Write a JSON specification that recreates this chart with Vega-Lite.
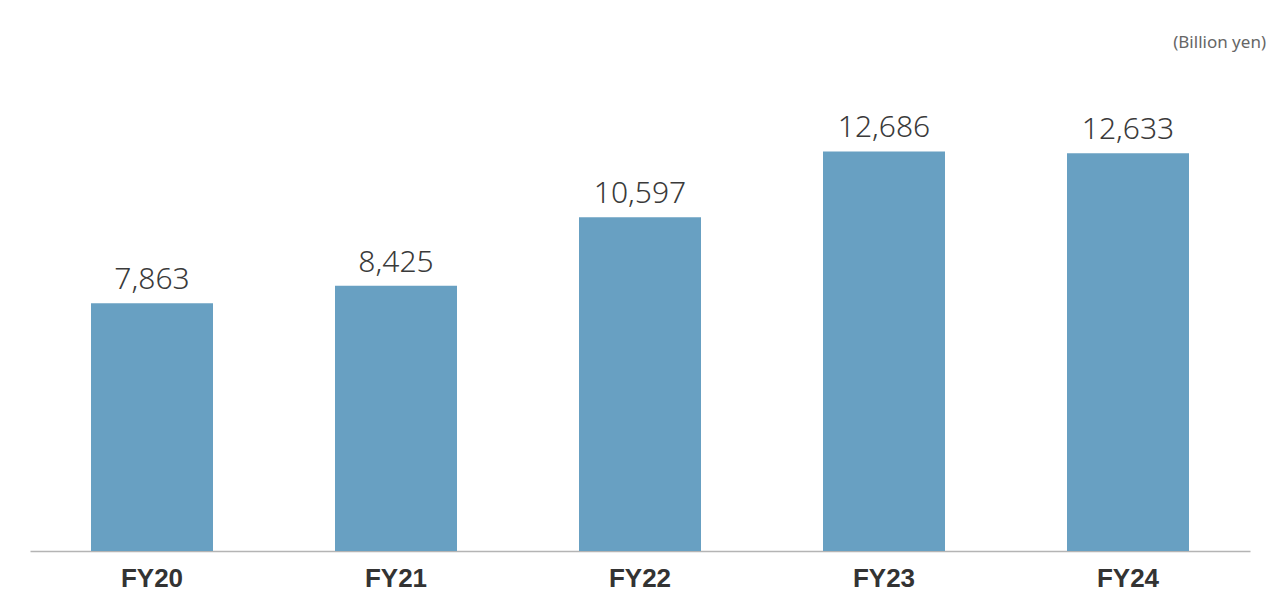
{
  "$schema": "https://vega.github.io/schema/vega-lite/v6.json",
  "autosize": {"type": "none"},
  "width": 1220,
  "height": 491,
  "padding": {"left": 30, "right": 30, "top": 60, "bottom": 54},
  "background": "white",
  "title": {
    "text": "(Billion yen)",
    "anchor": "end",
    "orient": "top",
    "fontSize": 17,
    "fontWeight": "normal",
    "font": "Noto Sans",
    "color": "#666666",
    "dx": 16,
    "offset": 8
  },
  "data": {
    "values": [
      {"year": "FY20", "value": 7863},
      {"year": "FY21", "value": 8425},
      {"year": "FY22", "value": 10597},
      {"year": "FY23", "value": 12686},
      {"year": "FY24", "value": 12633}
    ]
  },
  "config": {"view": {"stroke": null}},
  "encoding": {
    "x": {
      "field": "year",
      "type": "nominal",
      "sort": null,
      "scale": {"paddingInner": 0.5, "paddingOuter": 0.25},
      "axis": {
        "title": null,
        "labelAngle": 0,
        "ticks": false,
        "domainColor": "#b4b4b4",
        "domainWidth": 1.5,
        "labelFont": "Liberation Sans",
        "labelFontSize": 26,
        "labelFontWeight": "bold",
        "labelColor": "#333333",
        "labelPadding": 14
      }
    },
    "y": {
      "field": "value",
      "type": "quantitative",
      "scale": {"domain": [0, 15590]},
      "axis": null
    }
  },
  "layer": [
    {"mark": {"type": "bar", "color": "#68a0c2"}},
    {
      "mark": {
        "type": "text",
        "baseline": "alphabetic",
        "dy": -14,
        "font": "Noto Sans",
        "fontWeight": 300,
        "fontSize": 30,
        "color": "#3a3a3a"
      },
      "encoding": {"text": {"field": "value", "type": "quantitative", "format": ","}}
    }
  ]
}
